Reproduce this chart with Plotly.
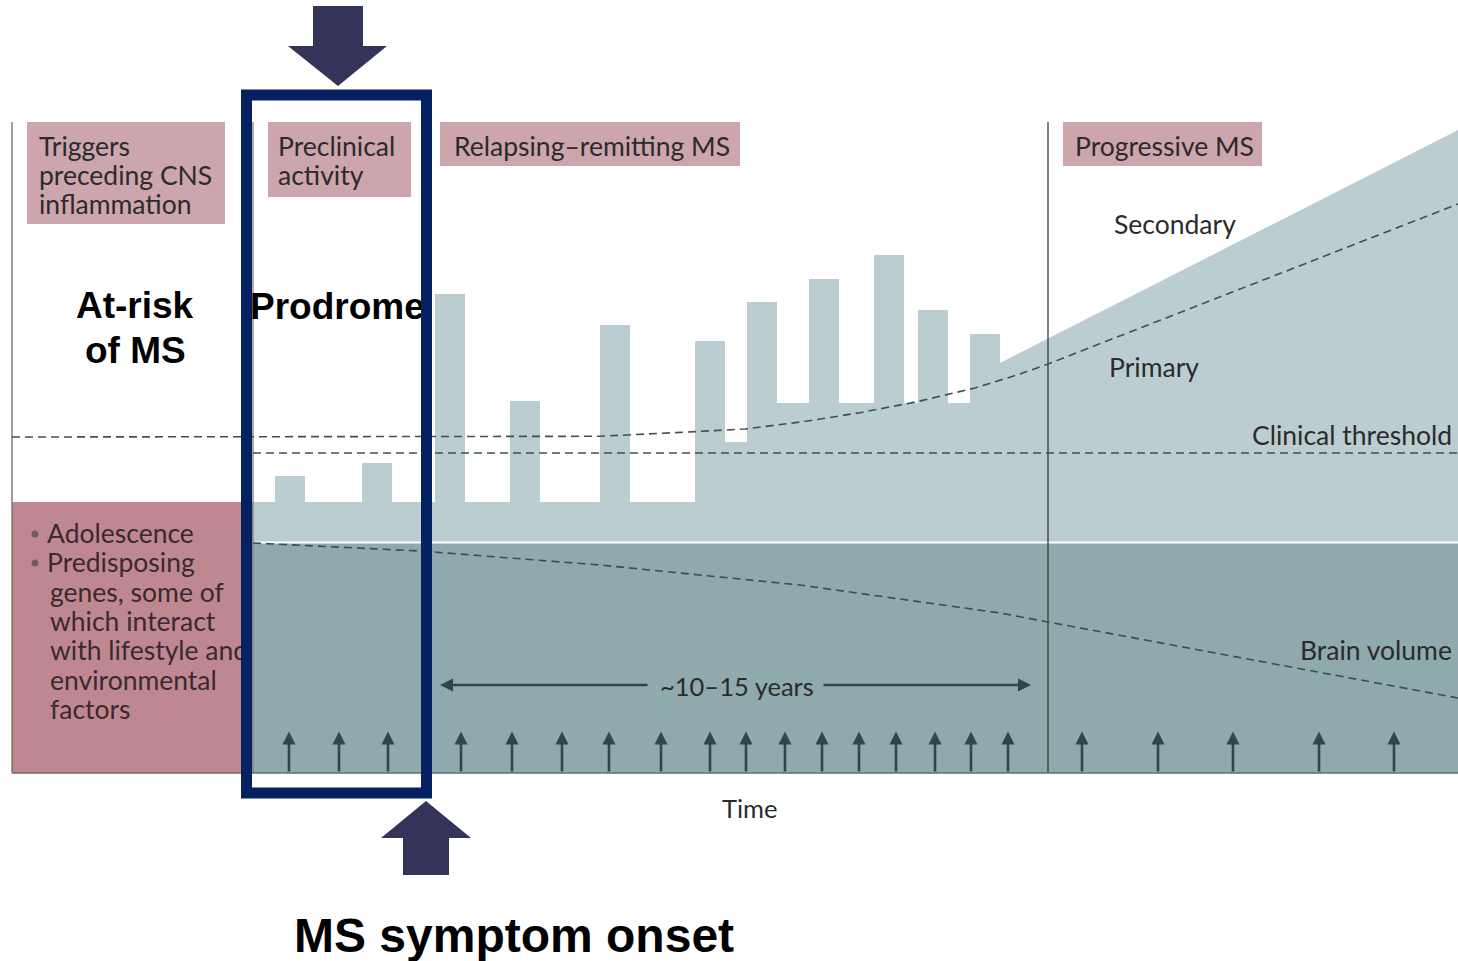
import plotly.graph_objects as go

W, H = 1458, 961

# ---------------- data (diagram coordinates: x = time, y = screen-like units) ----------
# relapse bars on the inflammatory-activity area
bar_left = [275, 362, 435, 510, 600, 695, 747, 809, 874, 918, 970]
bar_right = [305, 392, 465, 540, 630, 725, 777, 839, 904, 948, 1000]
bar_top = [476, 463, 294, 401, 325, 341, 302, 279, 255, 310, 334]
floor_after = [502, 502, 502, 502, 502, 442, 403, 403, 403, 403, 363]
activity_base = 502
activity_bottom = 541.5
activity_start_x = 253
secondary_end_x, secondary_end_y = 1458, 130

# primary progression curve (dashed)
primary_x = [12, 520, 600, 688, 745, 803, 860, 917, 975, 1020, 1048, 1458]
primary_y = [437, 437, 436.3, 432, 429, 421.7, 412.7, 401.7, 388, 374, 364, 204]

# clinical threshold
threshold_y = 453
threshold_x = [253, 1458]

# brain volume (dashed)
brain_x = [253, 420, 600, 800, 1000, 1048, 1458]
brain_y = [543, 551, 565, 585, 613, 622, 698]

# relapse / activity arrows along the time axis
event_x = [289, 339, 388, 461, 512, 562, 609, 661, 710, 746, 785, 822, 859,
           896, 935, 971, 1008, 1082, 1158, 1233, 1319, 1394]
event_tip_y = 731.5
axis_y = 773

# stage labels
stage_boxes = [
    (27, 122, 225, 224, ["Triggers", "preceding CNS", "inflammation"], 37),
    (268, 122, 411, 197, ["Preclinical", "activity"], 276),
    (440, 122, 740, 166, ["Relapsing\u2013remitting MS"], 452),
    (1063, 122, 1262, 166, ["Progressive MS"], 1073),
]
risk_lines = [("Adolescence", 47, 536), ("Predisposing", 47, 565),
              ("genes, some of", 50, 595), ("which interact", 50, 624),
              ("with lifestyle and", 50, 653), ("environmental", 50, 683),
              ("factors", 50, 712)]
bullet_y = [534, 563]

# ---------------- styles ----------
LIGHT = "#bccdd1"
TEAL = "#8eaaad"
PINK_BOX = "#cda5ac"
PINK_RISK = "#bf8891"
NAVY = "#062162"
BIG_ARROW = "#34335a"
DARK = "#2e474c"
TXT = "#2b2b2b"
FONT = "Lato, Open Sans, sans-serif"
BOLD = "Liberation Sans, Arial, sans-serif"
FS = 26.5

fig = go.Figure()
shapes = []
annotations = []

# background regions
shapes.append(dict(type="rect", x0=12, x1=253, y0=502, y1=axis_y, fillcolor=PINK_RISK,
                   line=dict(width=0), layer="below"))
shapes.append(dict(type="rect", x0=253, x1=1458, y0=543.5, y1=axis_y, fillcolor=TEAL,
                   line=dict(width=0), layer="below"))
for (x0, y0, x1, y1, lines, tx) in stage_boxes:
    shapes.append(dict(type="rect", x0=x0, x1=x1, y0=y0, y1=y1, fillcolor=PINK_BOX,
                       line=dict(width=0), layer="below"))
    for i, t in enumerate(lines):
        annotations.append(dict(x=tx, y=146 + 29 * i, text=t, showarrow=False,
                                xanchor="left", yanchor="middle",
                                font=dict(family=FONT, size=FS, color=TXT)))

# activity polygon built from bar data
px = [activity_start_x, activity_start_x]
py = [activity_bottom, activity_base]
level = activity_base
for l, r, t, f in zip(bar_left, bar_right, bar_top, floor_after):
    px += [l, l, r, r]
    py += [level, t, t, f]
    level = f
px += [secondary_end_x, secondary_end_x, activity_start_x]
py += [secondary_end_y, activity_bottom, activity_bottom]
fig.add_trace(go.Scatter(x=px, y=py, fill="toself", fillcolor=LIGHT, mode="lines",
                         line=dict(width=0, color=LIGHT), hoverinfo="skip"))

# frame lines
for xv, c in [(12, "#6a6a6a"), (253, "#808080"), (1048, "#3a3a3a")]:
    fig.add_trace(go.Scatter(x=[xv, xv], y=[122, axis_y], mode="lines",
                             line=dict(color=c, width=1.3), hoverinfo="skip"))
fig.add_trace(go.Scatter(x=[12, 1458], y=[axis_y, axis_y], mode="lines",
                         line=dict(color="#6a6a6a", width=1.5), hoverinfo="skip"))

# dashed curves
dash = "8px,5px"
fig.add_trace(go.Scatter(x=primary_x, y=primary_y, mode="lines",
                         line=dict(color="#3f5055", width=1.6, dash=dash), hoverinfo="skip"))
fig.add_trace(go.Scatter(x=threshold_x, y=[threshold_y] * 2, mode="lines",
                         line=dict(color="#3f5055", width=1.6, dash=dash), hoverinfo="skip"))
fig.add_trace(go.Scatter(x=brain_x, y=brain_y, mode="lines",
                         line=dict(color="#3a4f54", width=1.6, dash=dash), hoverinfo="skip"))

# risk factor list (under the highlight box)
fig.add_trace(go.Scatter(x=[35] * len(bullet_y), y=bullet_y, mode="markers",
                         marker=dict(size=7, color="#6e5c60"), hoverinfo="skip"))
fig.add_trace(go.Scatter(x=[p[1] for p in risk_lines], y=[p[2] for p in risk_lines],
                         text=[p[0] for p in risk_lines], mode="text",
                         textposition="middle right",
                         textfont=dict(family=FONT, size=FS, color="#3a2a2e"),
                         hoverinfo="skip"))
fig.add_trace(go.Scatter(x=[250], y=[310], text=["Prodrome"], mode="text",
                         textposition="middle right",
                         textfont=dict(family=BOLD, size=37, color="black", weight="bold"),
                         hoverinfo="skip"))

# highlight box and big arrows
shapes.append(dict(type="rect", x0=246.5, x1=426.5, y0=95, y1=793,
                   line=dict(color=NAVY, width=11), fillcolor="rgba(0,0,0,0)", layer="above"))
shapes.append(dict(type="path", path="M313,6 L363,6 L363,46 L387,46 L338,86 L288,46 L313,46 Z",
                   fillcolor=BIG_ARROW, line=dict(width=0), layer="above"))
shapes.append(dict(type="path", path="M426,801 L471,838 L449,838 L449,875 L403,875 L403,838 L381,838 Z",
                   fillcolor=BIG_ARROW, line=dict(width=0), layer="above"))

# event arrows
for xv in event_x:
    annotations.append(dict(x=xv, y=event_tip_y, ax=xv, ay=axis_y, axref="x", ayref="y",
                            xref="x", yref="y", text="", showarrow=True, arrowhead=2,
                            arrowsize=1, arrowwidth=2.6, arrowcolor=DARK, standoff=0,
                            startstandoff=0))
# ~10-15 years double arrow
annotations.append(dict(x=440, y=685, ax=649, ay=685, axref="x", ayref="y", text="",
                        showarrow=True, arrowhead=2, arrowsize=1, arrowwidth=2.6,
                        arrowcolor=DARK, standoff=0))
annotations.append(dict(x=1031, y=685, ax=822, ay=685, axref="x", ayref="y", text="",
                        showarrow=True, arrowhead=2, arrowsize=1, arrowwidth=2.6,
                        arrowcolor=DARK, standoff=0))

def txt(x, y, t, size=FS, xanchor="left", family=FONT, color=TXT, bold=False):
    annotations.append(dict(x=x, y=y, text=t, showarrow=False, xanchor=xanchor,
                            yanchor="middle",
                            font=dict(family=family, size=size, color=color,
                                      weight="bold" if bold else "normal")))

txt(737, 686, "~10\u201315 years", 25.5, "center")
txt(750, 808, "Time", 25.5, "center")
txt(1112, 224, "Secondary")
txt(1107, 367, "Primary")
txt(1454, 435, "Clinical threshold", FS, "right")
txt(1454, 650, "Brain volume", FS, "right")
txt(135, 305, "At-risk", 37, "center", BOLD, "black", True)
txt(135, 350, "of MS", 37, "center", BOLD, "black", True)
txt(514, 935, "MS symptom onset", 48, "center", BOLD, "black", True)

fig.update_layout(
    width=W, height=H, margin=dict(l=0, r=0, t=0, b=0),
    paper_bgcolor="white", plot_bgcolor="white", showlegend=False,
    xaxis=dict(range=[0, W], visible=False, fixedrange=True),
    yaxis=dict(range=[H, 0], visible=False, fixedrange=True),
    shapes=shapes, annotations=annotations,
)

fig.write_html("out.html", config={"displayModeBar": False},
               post_script="document.body.style.margin='0px';")
